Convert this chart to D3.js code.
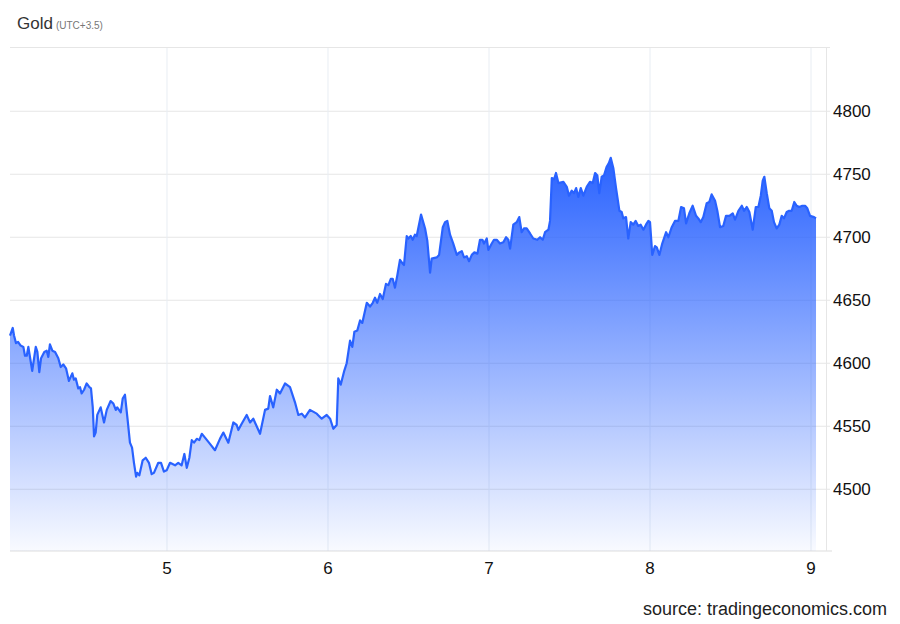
<!DOCTYPE html>
<html>
<head>
<meta charset="utf-8">
<script src="https://cdn.jsdelivr.net/npm/d3@7/dist/d3.min.js"></script>
<style>
  body { margin: 0; background: #fff; }
  text { font-family: "Liberation Sans", Arial, sans-serif; }
</style>
</head>
<body>
<svg id="mySvg" width="900" height="624"></svg>
<script>
// day of month (UTC+3.5) and gold price
const times = [
  4.025, 4.042, 4.050, 4.062, 4.075, 4.091, 4.108, 4.118, 4.129, 4.139, 4.149, 4.163, 4.185, 4.195, 4.207, 4.218,
  4.238, 4.253, 4.263, 4.273, 4.288, 4.305, 4.325, 4.340, 4.356, 4.373, 4.391, 4.412, 4.422, 4.433, 4.449, 4.460,
  4.470, 4.485, 4.501, 4.518, 4.528, 4.539, 4.547, 4.557, 4.567, 4.588, 4.609, 4.626, 4.650, 4.667, 4.682, 4.691,
  4.713, 4.725, 4.739, 4.754, 4.770, 4.783, 4.795, 4.808, 4.816, 4.828, 4.849, 4.868, 4.888, 4.905, 4.919, 4.946,
  4.963, 4.981, 4.998, 5.019, 5.050, 5.070, 5.091, 5.108, 5.123, 5.139, 5.154, 5.168, 5.185, 5.201, 5.216, 5.236,
  5.267, 5.298, 5.329, 5.350, 5.381, 5.412, 5.433, 5.443, 5.464, 5.495, 5.516, 5.536, 5.578, 5.609, 5.629, 5.640,
  5.660, 5.682, 5.702, 5.733, 5.764, 5.795, 5.816, 5.837, 5.857, 5.888, 5.930, 5.961, 5.992, 6.013, 6.033, 6.054,
  6.064, 6.079, 6.101, 6.116, 6.137, 6.151, 6.164, 6.182, 6.199, 6.213, 6.241, 6.261, 6.278, 6.292, 6.306, 6.323,
  6.340, 6.360, 6.375, 6.390, 6.402, 6.416, 6.431, 6.447, 6.464, 6.472, 6.489, 6.499, 6.514, 6.526, 6.540, 6.551,
  6.578, 6.603, 6.617, 6.634, 6.644, 6.675, 6.690, 6.713, 6.727, 6.741, 6.758, 6.778, 6.800, 6.816, 6.831, 6.845,
  6.862, 6.876, 6.893, 6.909, 6.928, 6.944, 6.959, 6.969, 6.986, 6.996, 7.017, 7.031, 7.048, 7.068, 7.089, 7.106,
  7.120, 7.131, 7.151, 7.172, 7.188, 7.203, 7.217, 7.234, 7.255, 7.275, 7.300, 7.317, 7.334, 7.348, 7.369, 7.379,
  7.390, 7.404, 7.416, 7.431, 7.462, 7.483, 7.497, 7.514, 7.528, 7.541, 7.555, 7.570, 7.586, 7.607, 7.627, 7.644,
  7.659, 7.673, 7.685, 7.700, 7.714, 7.731, 7.745, 7.756, 7.772, 7.789, 7.810, 7.824, 7.834, 7.851, 7.865, 7.880,
  7.896, 7.911, 7.927, 7.942, 7.959, 7.975, 7.990, 8.000, 8.014, 8.031, 8.042, 8.058, 8.076, 8.100, 8.114, 8.135,
  8.155, 8.176, 8.193, 8.211, 8.224, 8.244, 8.265, 8.286, 8.300, 8.315, 8.331, 8.352, 8.368, 8.383, 8.404, 8.418,
  8.435, 8.455, 8.472, 8.493, 8.514, 8.528, 8.549, 8.570, 8.584, 8.601, 8.617, 8.638, 8.657, 8.673, 8.688, 8.700,
  8.710, 8.725, 8.741, 8.756, 8.770, 8.787, 8.803, 8.818, 8.832, 8.849, 8.864, 8.880, 8.896, 8.911, 8.927, 8.946,
  8.963, 8.977, 8.994, 9.019, 9.031
];
const prices = [
  4622, 4628, 4622, 4616, 4617, 4614, 4613, 4606, 4606, 4613, 4605, 4594, 4613, 4609, 4593, 4604,
  4609, 4610, 4605, 4615, 4610, 4609, 4604, 4597, 4599, 4596, 4586, 4592, 4587, 4588, 4580, 4581,
  4576, 4579, 4584, 4581, 4580, 4565, 4542, 4545, 4559, 4565, 4553, 4563, 4570, 4568, 4563, 4565,
  4561, 4572, 4575, 4557, 4537, 4533, 4521, 4510, 4513, 4511, 4523, 4525, 4521, 4512, 4513, 4521,
  4521, 4514, 4515, 4521, 4519, 4521, 4519, 4528, 4517, 4525, 4539, 4537, 4540, 4539, 4544, 4541,
  4536, 4531, 4540, 4545, 4537, 4553, 4551, 4547, 4552, 4559, 4553, 4556, 4544, 4563, 4564, 4574,
  4565, 4579, 4576, 4584, 4581, 4569, 4559, 4560, 4557, 4563, 4560, 4556, 4559, 4556, 4548, 4551,
  4588, 4583, 4594, 4600, 4618, 4613, 4625, 4626, 4634, 4632, 4648, 4645, 4648, 4652, 4648, 4655,
  4651, 4663, 4662, 4667, 4667, 4660, 4670, 4682, 4679, 4678, 4701, 4699, 4701, 4698, 4702, 4701,
  4718, 4707, 4697, 4672, 4683, 4684, 4686, 4708, 4712, 4713, 4702, 4695, 4686, 4688, 4689, 4684,
  4685, 4681, 4686, 4688, 4687, 4698, 4698, 4695, 4699, 4690, 4695, 4698, 4698, 4695, 4696, 4700,
  4698, 4691, 4710, 4712, 4716, 4704, 4707, 4707, 4703, 4699, 4698, 4700, 4698, 4704, 4706, 4713,
  4747, 4746, 4751, 4743, 4744, 4740, 4733, 4737, 4735, 4739, 4732, 4739, 4733, 4740, 4744, 4743,
  4751, 4749, 4735, 4748, 4749, 4756, 4759, 4763, 4755, 4739, 4721, 4720, 4715, 4716, 4699, 4712,
  4710, 4713, 4709, 4710, 4706, 4710, 4713, 4712, 4686, 4693, 4692, 4686, 4695, 4704, 4700, 4708,
  4713, 4713, 4724, 4723, 4711, 4719, 4725, 4717, 4715, 4712, 4716, 4727, 4728, 4734, 4729, 4721,
  4708, 4709, 4717, 4717, 4719, 4714, 4721, 4725, 4721, 4724, 4720, 4706, 4724, 4724, 4733, 4745,
  4748, 4735, 4723, 4721, 4712, 4707, 4710, 4717, 4715, 4720, 4721, 4721, 4728, 4725, 4724, 4725,
  4725, 4723, 4717, 4716, 4715
];
const dayTicks = [5, 6, 7, 8, 9];
const priceTicks = [4500, 4550, 4600, 4650, 4700, 4750, 4800];

const data = times.map((t, i) => ({ t: t, v: prices[i] }));

const svg = d3.select("#mySvg");
const margin = { top: 47, right: 74, bottom: 73, left: 10 },
  width = +svg.attr("width") - margin.left - margin.right,
  height = +svg.attr("height") - margin.top - margin.bottom;

const x = d3.scaleLinear().domain([4.025, 9.093]).range([0, width]);
const y = d3.scaleLinear().domain([4451, 4851]).range([height, 0]);

const blue = "#2962ff";

const defs = svg.append("defs");
const grad = defs
  .append("linearGradient")
  .attr("id", "fillGrad")
  .attr("gradientUnits", "userSpaceOnUse")
  .attr("x1", 0)
  .attr("x2", 0)
  .attr("y1", y(d3.max(prices)))
  .attr("y2", height);
grad.append("stop").attr("offset", "0%").attr("stop-color", blue).attr("stop-opacity", 1);
grad.append("stop").attr("offset", "100%").attr("stop-color", blue).attr("stop-opacity", 0.03);

const g = svg
  .append("g")
  .attr("transform", `translate(${margin.left},${margin.top})`);

// grid
g.append("g")
  .selectAll("line")
  .data(priceTicks)
  .enter()
  .append("line")
  .attr("x1", 0)
  .attr("x2", width + 4)
  .attr("y1", (d) => y(d))
  .attr("y2", (d) => y(d))
  .attr("stroke", "#e6e6e6");

g.append("g")
  .selectAll("line")
  .data(dayTicks)
  .enter()
  .append("line")
  .attr("x1", (d) => x(d))
  .attr("x2", (d) => x(d))
  .attr("y1", 0)
  .attr("y2", height)
  .attr("stroke", "#e8edf3");

// frame
g.append("line").attr("x1", 0).attr("x2", width + 4).attr("y1", 0.5).attr("y2", 0.5).attr("stroke", "#e6e6e6");
g.append("line").attr("x1", 0).attr("x2", width + 6).attr("y1", height).attr("y2", height).attr("stroke", "#dddddd");
g.append("line").attr("x1", width + 0.5).attr("x2", width + 0.5).attr("y1", 0).attr("y2", height).attr("stroke", "#e6e6e6");

// area + line
const area = d3
  .area()
  .x((d) => x(d.t))
  .y0(height)
  .y1((d) => y(d.v));

const line = d3
  .line()
  .x((d) => x(d.t))
  .y((d) => y(d.v));

g.append("path").datum(data).attr("fill", "url(#fillGrad)").attr("d", area);

g.append("path")
  .datum(data)
  .attr("fill", "none")
  .attr("stroke", blue)
  .attr("stroke-width", 2.2)
  .attr("stroke-linejoin", "round")
  .attr("d", line);

// axes labels
g.append("g")
  .selectAll("text")
  .data(priceTicks)
  .enter()
  .append("text")
  .attr("x", width + 7)
  .attr("y", (d) => y(d))
  .attr("dy", "0.35em")
  .attr("font-size", 17)
  .attr("fill", "#111")
  .text((d) => d);

g.append("g")
  .selectAll("text")
  .data(dayTicks)
  .enter()
  .append("text")
  .attr("x", (d) => x(d))
  .attr("y", height + 23)
  .attr("text-anchor", "middle")
  .attr("font-size", 17)
  .attr("fill", "#111")
  .text((d) => d);

// title
const title = svg.append("text").attr("x", 17).attr("y", 29).attr("fill", "#333");
title.append("tspan").attr("font-size", 17).text("Gold");
title.append("tspan").attr("font-size", 10).attr("fill", "#777").attr("dx", 3).text("(UTC+3.5)");

svg
  .append("text")
  .attr("x", 887)
  .attr("y", 615)
  .attr("text-anchor", "end")
  .attr("font-size", 18)
  .attr("fill", "#222")
  .text("source: tradingeconomics.com");
</script>
</body>
</html>
